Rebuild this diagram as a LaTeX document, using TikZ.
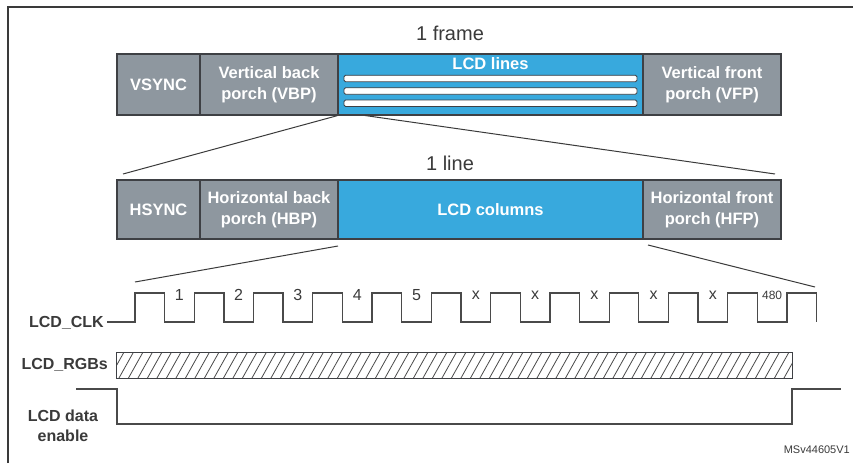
\documentclass[tikz,border=0pt]{standalone}
\usepackage{fontspec}
\setmainfont{Liberation Sans}
\definecolor{boxgray}{HTML}{8E979F}
\definecolor{lcdblue}{HTML}{38A9DD}
\definecolor{edge}{HTML}{3E4044}
\definecolor{ink}{HTML}{3A3A3A}
\definecolor{wave}{HTML}{4A4A4A}
\tikzset{
  seg/.style={draw=edge, line width=1.3pt, fill=#1, inner sep=0pt,
    font=\fontsize{16.5}{21}\selectfont\bfseries, text=white, align=center},
  row1/.style={minimum height=61pt},
  row2/.style={minimum height=59pt},
  linebar/.style={draw=edge, fill=white, line width=0.8pt, rounded corners=1.5pt,
    minimum width=293pt, minimum height=6.5pt, inner sep=0pt},
  zoomline/.style={draw=ink, line width=1pt},
  sig/.style={draw=wave, line width=1.3pt, line join=miter},
  siglabel/.style={font=\fontsize{16}{19}\selectfont\bfseries, text=ink, align=center},
  tick/.style={font=\fontsize{16}{18}\selectfont, text=ink, inner sep=0pt},
  title/.style={font=\fontsize{20}{22}\selectfont, text=ink},
  hatch/.style={draw=wave, line width=0.8pt},
}
\begin{document}
\begin{tikzpicture}[x=1pt,y=-1pt]
\useasboundingbox (0,0) rectangle (853,463);
% outer frame (only top and left edges fall inside the picture)
\draw[line width=1.2pt, draw=ink] (8,463) -- (8,7) -- (853,7);

% ---- one frame ----
\node[title] (frame) at (450,33) {1 frame};
\node[seg=boxgray, row1, minimum width=83pt]  (vsync) at (158.5,84.5) {VSYNC};
\node[seg=boxgray, row1, minimum width=138pt] (vbp)   at (269,84.5) {Vertical back\\porch (VBP)};
\node[seg=lcdblue, row1, minimum width=305pt] (lines) at (490.5,84.5) {};
\node[seg=boxgray, row1, minimum width=138pt] (vfp)   at (712,84.5) {Vertical front\\porch (VFP)};
\node[font=\fontsize{16.5}{20}\selectfont\bfseries, text=white] (lineslbl) at (490.5,63.5) {LCD lines};
\node[linebar] (bar1) at (490.5,78.5) {};
\node[linebar] (bar2) at (490.5,91) {};
\node[linebar] (bar3) at (490.5,103.3) {};

% ---- one line ----
\node[title] (line) at (450,163) {1 line};
\node[seg=boxgray, row2, minimum width=83pt]  (hsync) at (158.5,209.5) {HSYNC};
\node[seg=boxgray, row2, minimum width=138pt] (hbp)   at (269,209.5) {Horizontal back\\porch (HBP)};
\node[seg=lcdblue, row2, minimum width=305pt] (cols)  at (490.5,209.5) {LCD columns};
\node[seg=boxgray, row2, minimum width=138pt] (hfp)   at (712,209.5) {Horizontal front\\porch (HFP)};

% zoom lines: frame -> line
\coordinate (za) at (365,115.5);
\coordinate (zl) at (123,174);
\coordinate (zr) at (775,174);
\draw[zoomline] (lines.south west) -- (zl);
\draw[zoomline] (za) -- (zr);

% zoom lines: line -> clock
\coordinate (ca) at (338,246);
\coordinate (cb) at (648,245);
\coordinate (cl) at (135,282);
\coordinate (cr) at (815,287);
\draw[zoomline] (ca) -- (cl);
\draw[zoomline] (cb) -- (cr);

% ---- LCD_CLK ----
\node[siglabel, anchor=east, inner sep=0pt] (clk) at (104,323) {LCD\_CLK};
\draw[sig] (107,322)
  foreach \k in {0,...,11} {
    -- ({135+59.27*\k},322) -- ({135+59.27*\k},293)
    -- ({164.6+59.27*\k},293) -- ({164.6+59.27*\k},322)
  };
\foreach \t [count=\i from 0] in {1,2,3,4,5,x,x,x,x,x} {
  \node[tick] (n\i) at ({179.4+59.27*\i},295) {\t};
}
\node[tick, font=\fontsize{12}{14}\selectfont] (n10) at ({179.4+59.27*10},295) {480};

% ---- LCD_RGBs ----
\node[siglabel, anchor=east, inner sep=0pt] (rgbl) at (108,365) {LCD\_RGBs};
\node[draw=none, minimum width=675pt, minimum height=25pt, inner sep=0pt] (rgbs) at (454.5,365.5) {};
\begin{scope}
  \clip (rgbs.south west) rectangle (rgbs.north east);
  \foreach \x in {100,109.5,...,800} {
    \draw[hatch] (\x,378) -- ++(14,-25);
  }
\end{scope}
\draw[line width=1.2pt, draw=edge] (rgbs.south west) rectangle (rgbs.north east);

% ---- LCD data enable ----
\node[siglabel, inner sep=0pt, font=\fontsize{16}{20}\selectfont\bfseries] (del) at (63,426) {LCD data\\enable};
\draw[sig] (76,389) -- (117,389) -- (117,424) -- (792,424) -- (792,389) -- (841,389);

\node[anchor=east, inner sep=0pt, text=ink, font=\fontsize{11}{13}\selectfont] (ref) at (850,450) {MSv44605V1};
\end{tikzpicture}
\end{document}
